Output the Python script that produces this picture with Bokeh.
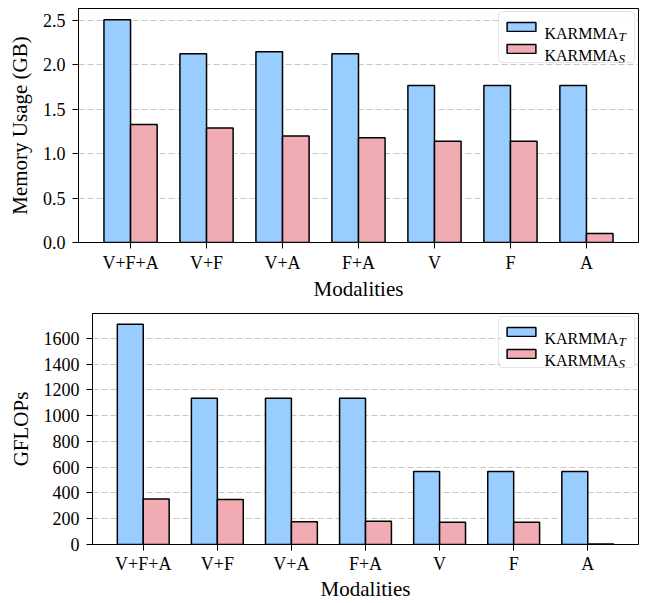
from bokeh.plotting import figure
from bokeh.models import (ColumnDataSource, FactorRange, Range1d, FixedTicker,
                          PrintfTickFormatter, Legend, LegendItem, Label, BoxAnnotation)
from bokeh.transform import dodge
from bokeh.embed import file_html
from bokeh.resources import INLINE

modalities = ["V+F+A", "V+F", "V+A", "F+A", "V", "F", "A"]
mem_teacher = [2.51, 2.125, 2.15, 2.125, 1.77, 1.77, 1.77]
mem_student = [1.33, 1.29, 1.20, 1.18, 1.14, 1.14, 0.10]
gflops_teacher = [1711, 1136, 1136, 1136, 567, 567, 567]
gflops_student = [354, 349, 177, 180, 172, 172, 4]
mem_ticks = [0.0, 0.5, 1.0, 1.5, 2.0, 2.5]
gflops_ticks = [0, 200, 400, 600, 800, 1000, 1200, 1400, 1600]
series_names = ["KARMMA", "KARMMA"]
series_subs = ["T", "S"]

BLUE = "#99ccff"
PINK = "#f0acb2"
FONT = "Liberation Serif"
BW = 0.35
LEG_W, LEG_H, LEG_M = 135, 50, 3


def make_panel(teacher, student, ticks, ylabel, ymax, fmt, border_left, frame_w, frame_h,
               border_top, border_bottom, xlab_standoff, xlabel_standoff):
    src = ColumnDataSource(dict(m=modalities, t=teacher, s=student))
    p = figure(x_range=FactorRange(factors=modalities, range_padding=0.185,
                                   range_padding_units="absolute"),
               y_range=Range1d(0, ymax),
               frame_width=frame_w, frame_height=frame_h,
               output_backend="svg", toolbar_location=None,
               min_border_left=border_left, min_border_right=3,
               min_border_top=border_top, min_border_bottom=border_bottom)
    r1 = p.vbar(x=dodge("m", -BW / 2, range=p.x_range), top="t", width=BW, source=src,
                fill_color=BLUE, line_color="black", line_width=1.5)
    r2 = p.vbar(x=dodge("m", BW / 2, range=p.x_range), top="s", width=BW, source=src,
                fill_color=PINK, line_color="black", line_width=1.5)

    p.outline_line_color = "black"
    p.outline_line_width = 1
    p.xgrid.grid_line_color = None
    p.ygrid.grid_line_color = "#c8c8c8"
    p.ygrid.grid_line_dash = "6 3"
    p.ygrid.grid_line_width = 1

    for ax in (p.xaxis[0], p.yaxis[0]):
        ax.axis_line_color = "black"
        ax.major_tick_line_color = "black"
        ax.major_tick_out = 6
        ax.major_tick_in = 0
        ax.minor_tick_line_color = None
        ax.major_label_text_font = FONT
        ax.major_label_text_font_size = "18px"
        ax.major_label_text_color = "black"
        ax.axis_label_text_font = FONT
        ax.axis_label_text_font_size = "21px"
        ax.axis_label_text_font_style = "normal"
        ax.axis_label_text_color = "black"

    p.xaxis.axis_label = "Modalities"
    p.xaxis.major_label_standoff = xlab_standoff
    p.xaxis.axis_label_standoff = xlabel_standoff
    p.yaxis.axis_label = ylabel
    p.yaxis.major_label_standoff = 7
    p.yaxis.axis_label_standoff = 8
    p.yaxis.ticker = FixedTicker(ticks=ticks)
    p.yaxis.formatter = PrintfTickFormatter(format=fmt)

    # white legend background (drawn below the legend texts)
    bg = BoxAnnotation(left=frame_w - LEG_M - LEG_W, right=frame_w - LEG_M,
                       top=frame_h - LEG_M, bottom=frame_h - LEG_M - LEG_H,
                       left_units="screen", right_units="screen",
                       top_units="screen", bottom_units="screen",
                       fill_color="white", fill_alpha=0.9, line_color=None,
                       level="underlay", editable=False)
    p.add_layout(bg)

    # legend box and patches (labels drawn separately to allow subscripts)
    legend = Legend(items=[LegendItem(label=" ", renderers=[r1]),
                           LegendItem(label=" ", renderers=[r2])],
                    location="top_right", margin=LEG_M, padding=4, spacing=2,
                    glyph_width=36, glyph_height=11, label_standoff=6,
                    label_width=85, label_height=20,
                    label_text_font=FONT, label_text_font_size="16px",
                    border_line_color="#cccccc", border_line_width=1,
                    background_fill_alpha=0)
    try:
        legend.border_radius = 4
    except Exception:
        pass
    p.add_layout(legend, "center")

    for i, (name, sub) in enumerate(zip(series_names, series_subs)):
        main = Label(x=frame_w - 94, y=frame_h - 24.5 - i * 22.5,
                     x_units="screen", y_units="screen",
                     text=name, text_font=FONT, text_font_size="16px",
                     text_color="black", text_baseline="alphabetic", level="overlay")
        p.add_layout(main)
        lab = Label(x=frame_w - 20, y=frame_h - 27.5 - i * 22.5,
                    x_units="screen", y_units="screen",
                    text=sub, text_font=FONT, text_font_size="13px",
                    text_font_style="italic", text_color="black",
                    text_baseline="alphabetic", level="overlay")
        p.add_layout(lab)
    return p


p1 = make_panel(mem_teacher, mem_student, mem_ticks, "Memory Usage (GB)", 2.636, "%.1f",
                78, 560, 234, 8, 71, 4, 1)
p2 = make_panel(gflops_teacher, gflops_student, gflops_ticks, "GFLOPs", 1794, "%d",
                92, 546, 231, 0, 59, 3, 0)

open("out.html", "w").write(file_html([p1, p2], INLINE))
